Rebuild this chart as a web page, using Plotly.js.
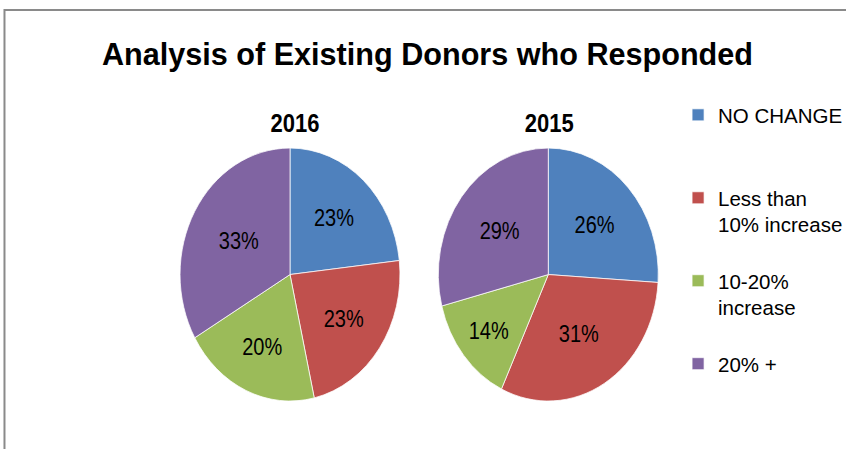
<!DOCTYPE html>
<html>
<head>
<meta charset="utf-8">
<script src="https://cdn.plot.ly/plotly-3.0.1.min.js"></script>
<style>
  html, body { margin: 0; padding: 0; background: #ffffff; }
  #chart { width: 846px; height: 449px; }
</style>
</head>
<body>
<div id="chart"></div>
<script>
// ---- data ----
var categories = ["NO CHANGE", "Less than 10% increase", "10-20% increase", "20% +"];
var legendLabels = ["NO CHANGE<br> <br> ", "Less than<br>10% increase<br> ", "10-20%<br>increase<br> ", "20% +"];
var years = ["2016", "2015"];
var values2016 = [23, 23, 20, 33];
var values2015 = [26, 31, 14, 29];
var colors = ["#4F81BD", "#C0504D", "#9BBB59", "#8064A2"];

var FONT = "Liberation Sans, Arial, sans-serif";
var STRETCH = 1.15;
var TITLE_LIFT = 10.9;
var TITLE_SHIFT_X = [5, 1];

function pieTrace(vals, year, xdom) {
  return {
    type: "pie",
    labels: legendLabels,
    values: vals,
    sort: false,
    direction: "clockwise",
    rotation: 0,
    domain: { x: xdom, y: [0.1164, 0.7164] },
    marker: { colors: colors, line: { color: "#ffffff", width: 0.7 } },
    texttemplate: "%{percent:.0%}",
    textposition: "inside",
    insidetextorientation: "horizontal",
    textfont: { family: FONT, size: 20, color: "#000000" },
    title: { text: "<b>" + year + "</b>", position: "top center", font: { family: FONT, size: 22, color: "#000000" } },
    hoverinfo: "skip"
  };
}

var data = [
  pieTrace(values2016, years[0], [0.2128, 0.4728]),
  pieTrace(values2015, years[1], [0.5181, 0.7781])
];

var layout = {
  width: 846,
  height: 449,
  margin: { l: 0, r: 0, t: 0, b: 0, autoexpand: false },
  paper_bgcolor: "#ffffff",
  plot_bgcolor: "#ffffff",
  font: { family: FONT, color: "#000000" },
  title: {
    text: "<b>Analysis of Existing Donors who Responded</b>",
    font: { family: FONT, size: 30.6, color: "#000000" },
    x: 0.5053, xanchor: "center", xref: "paper",
    y: 0.88, yanchor: "middle", yref: "container"
  },
  showlegend: true,
  legend: {
    x: 0.8015, xanchor: "left",
    y: 0.7884, yanchor: "top",
    valign: "top",
    font: { family: FONT, size: 20.5, color: "#000000" },
    bgcolor: "rgba(0,0,0,0)",
    traceorder: "normal"
  },
  shapes: [{
    type: "rect", xref: "paper", yref: "paper",
    x0: 0.0053, x1: 1.05, y0: -0.05, y1: 0.9777,
    line: { color: "#8a8a8a", width: 2 },
    fillcolor: "rgba(0,0,0,0)"
  }]
};

Plotly.newPlot("chart", data, layout, { displayModeBar: false, staticPlot: true }).then(function (gd) {
  // stretch the pies vertically around their centres, as in the reference picture
  var groups = gd.querySelectorAll(".pielayer g.trace");
  groups.forEach(function (g, i) {
    var cd0 = gd.calcdata[i] && gd.calcdata[i][0];
    var cy = (cd0 && isFinite(cd0.cy)) ? cd0.cy :
      449 * (1 - (data[i].domain.y[0] + data[i].domain.y[1]) / 2);
    g.setAttribute("transform", "translate(0," + cy + ") scale(1," + STRETCH + ") translate(0," + (-cy) + ")");
    var t = g.querySelector("text.titletext");
    if (t) {
      var prev = t.getAttribute("transform") || "";
      t.setAttribute("transform", "translate(" + (TITLE_SHIFT_X[i] || 0) + "," + (-TITLE_LIFT) + ") " + prev);
    }
  });
});
</script>
</body>
</html>
